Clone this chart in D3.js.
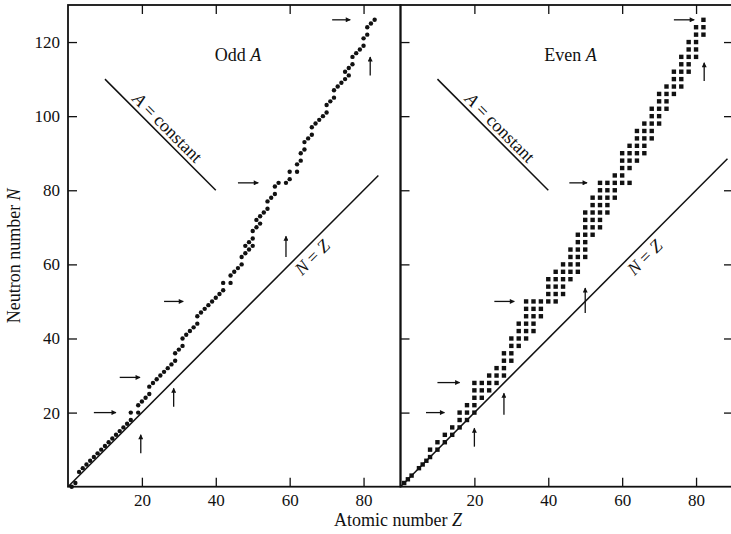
<!DOCTYPE html>
<html>
<head>
<meta charset="utf-8">
<script src="https://cdn.jsdelivr.net/npm/d3@7/dist/d3.min.js"></script>
<style>
  body { margin: 0; background: #fff; }
  text { font-family: "Liberation Serif", "Times New Roman", serif; fill: #111; }
</style>
</head>
<body>
<svg id="chart" width="731" height="534"></svg>
<script>
// Stable odd-A nuclides, [Z, N]
const oddA = [
  [1,0],[2,1],[3,4],[4,5],[5,6],[6,7],[7,8],[8,9],[9,10],[10,11],[11,12],[12,13],[13,14],
  [14,15],[15,16],[16,17],[17,18],[17,20],[19,20],[19,22],[20,23],[21,24],[22,25],[22,27],
  [23,28],[24,29],[25,30],[26,31],[27,32],[28,33],[29,34],[29,36],[30,37],[31,38],[31,40],
  [32,41],[33,42],[34,43],[35,44],[35,46],[36,47],[37,48],[38,49],[39,50],[40,51],[41,52],
  [42,53],[42,55],[44,55],[44,57],[45,58],[46,59],[47,60],[47,62],[48,63],[48,65],[49,64],
  [50,65],[49,66],[50,67],[50,69],[51,70],[51,72],[52,71],[52,73],[53,74],[54,75],[54,77],
  [55,78],[56,79],[56,81],[57,82],[59,82],[60,83],[60,85],[62,85],[62,87],[63,88],[63,90],
  [64,91],[64,93],[65,94],[66,95],[66,97],[67,98],[68,99],[69,100],[70,101],[70,103],
  [71,104],[72,105],[72,107],[73,108],[74,109],[75,110],[76,111],[75,112],[76,113],[77,114],
  [77,116],[78,117],[79,118],[80,119],[80,121],[81,122],[81,124],[82,125],[83,126]
];

// Stable even-A nuclides, [Z, N]
const evenA = [
  [1,1],[2,2],[3,3],[5,5],[6,6],[7,7],[8,8],[8,10],[10,10],[10,12],[12,12],[12,14],
  [14,14],[14,16],[16,16],[16,18],[16,20],[18,18],[18,20],[18,22],
  [20,20],[20,22],[20,24],[20,26],[20,28],[22,24],[22,26],[22,28],[24,26],[24,28],[24,30],
  [26,28],[26,30],[26,32],[28,30],[28,32],[28,34],[28,36],[30,34],[30,36],[30,38],[30,40],
  [32,38],[32,40],[32,42],[32,44],[34,40],[34,42],[34,44],[34,46],[34,48],[34,50],
  [36,42],[36,44],[36,46],[36,48],[36,50],[38,46],[38,48],[38,50],
  [40,50],[40,52],[40,54],[40,56],[42,50],[42,52],[42,54],[42,56],[42,58],
  [44,52],[44,54],[44,56],[44,58],[44,60],[46,56],[46,58],[46,60],[46,62],[46,64],
  [48,58],[48,60],[48,62],[48,64],[48,66],[48,68],
  [50,62],[50,64],[50,66],[50,68],[50,70],[50,72],[50,74],
  [52,68],[52,70],[52,72],[52,74],[52,76],[52,78],
  [54,70],[54,72],[54,74],[54,76],[54,78],[54,80],[54,82],
  [56,74],[56,76],[56,78],[56,80],[56,82],[58,78],[58,80],[58,82],[58,84],
  [60,82],[60,84],[60,86],[60,88],[60,90],[62,82],[62,86],[62,88],[62,90],[62,92],
  [64,88],[64,90],[64,92],[64,94],[64,96],[66,90],[66,92],[66,94],[66,96],[66,98],
  [68,94],[68,96],[68,98],[68,100],[68,102],[70,98],[70,100],[70,102],[70,104],[70,106],
  [72,102],[72,104],[72,106],[72,108],[74,106],[74,108],[74,110],[74,112],
  [76,108],[76,110],[76,112],[76,114],[76,116],[78,112],[78,114],[78,116],[78,118],[78,120],
  [80,116],[80,118],[80,120],[80,122],[80,124],[82,122],[82,124],[82,126]
];

// Magic-number arrows: horizontal [N, Zfrom, Zto], vertical [Z, Nfrom, Nto]
const oddHArrows = [[20,7,13],[29.5,14,19.5],[50,26,31.2],[82,46,51.5],[126,71.5,76.4]];
const oddVArrows = [[19.7,9,14],[28.6,21.6,26.6],[59,62,67.6],[81.8,111,116]];
const evenHArrows = [[20,6.9,11.9],[28.1,10,16],[50,25.4,30.8],[82,45.7,50.5],[126,74,79.5]];
const evenVArrows = [[20,10.8,15.8],[28,19.4,25.2],[50,46.9,53.6],[82.2,109.5,114.4]];

const xTicks = [20, 40, 60, 80];
const yTicks = [20, 40, 60, 80, 100, 120];

const svg = d3.select("#chart");
const yTop = 5, yBottom = 486.7;
const y = d3.scaleLinear().domain([0, 130]).range([yBottom, yTop]);
const xL = d3.scaleLinear().domain([0, 90]).range([68, 400.5]);
const xR = d3.scaleLinear().domain([0, 90]).range([400.5, 733]);

// arrow head
svg.append("defs").append("marker")
  .attr("id", "head")
  .attr("viewBox", "0 0 10 10")
  .attr("refX", 9).attr("refY", 5)
  .attr("markerWidth", 7).attr("markerHeight", 5)
  .attr("markerUnits", "userSpaceOnUse")
  .attr("orient", "auto")
  .append("path").attr("d", "M0 0 L10 5 L0 10 Z").attr("fill", "#111");

function styleAxis(g) {
  g.select(".domain").remove();
  g.selectAll(".tick line").attr("stroke", "#111").attr("stroke-width", 1.3);
  g.selectAll(".tick text").style("font-size", "17px").attr("fill", "#111");
}

function panel(x, data, square, hArrows, vArrows, title, nzEnd, firstPanel) {
  const g = svg.append("g");

  // axes with inward ticks
  g.append("g").attr("transform", `translate(0,${yBottom})`)
    .call(d3.axisBottom(x).tickValues(xTicks).tickSize(-9).tickPadding(7))
    .call(styleAxis);
  g.append("g").attr("transform", `translate(0,${yTop})`)
    .call(d3.axisTop(x).tickValues(xTicks).tickSize(-9).tickFormat(""))
    .call(styleAxis);
  if (firstPanel) {
    g.append("g").attr("transform", `translate(${x(0)},0)`)
      .call(d3.axisLeft(y).tickValues(yTicks).tickSize(-9).tickPadding(8))
      .call(styleAxis);
  } else {
    g.append("g").attr("transform", `translate(${x(0)},0)`)
      .call(d3.axisRight(y).tickValues(yTicks).tickSize(9).tickFormat(""))
      .call(styleAxis);
    g.append("g").attr("transform", `translate(${x(90)},0)`)
      .call(d3.axisLeft(y).tickValues(yTicks).tickSize(9).tickFormat(""))
      .call(styleAxis);
  }

  // frame
  g.append("rect")
    .attr("x", x(0)).attr("y", yTop)
    .attr("width", x(90) - x(0)).attr("height", yBottom - yTop)
    .attr("fill", "none").attr("stroke", "#111").attr("stroke-width", 1.8);

  // N = Z line
  g.append("line")
    .attr("x1", x(0)).attr("y1", y(0)).attr("x2", x(nzEnd)).attr("y2", y(nzEnd))
    .attr("stroke", "#111").attr("stroke-width", 1.5);
  const nzAngle = Math.atan2(y(nzEnd) - y(0), x(nzEnd) - x(0)) * 180 / Math.PI;
  const nz = g.append("text")
    .attr("transform", `translate(${x(64)},${y(64)}) rotate(${nzAngle})`)
    .attr("text-anchor", "middle").attr("dy", 17)
    .style("font-size", "18px");
  nz.append("tspan").style("font-style", "italic").text("N");
  nz.append("tspan").text(" = ");
  nz.append("tspan").style("font-style", "italic").text("Z");

  // A = constant line
  g.append("line")
    .attr("x1", x(10)).attr("y1", y(110)).attr("x2", x(40)).attr("y2", y(80))
    .attr("stroke", "#111").attr("stroke-width", 1.5);
  const acAngle = Math.atan2(y(80) - y(110), x(40) - x(10)) * 180 / Math.PI;
  const ac = g.append("text")
    .attr("transform", `translate(${x(25)},${y(95)}) rotate(${acAngle})`)
    .attr("text-anchor", "middle").attr("dy", -4)
    .style("font-size", "18px");
  ac.append("tspan").style("font-style", "italic").text("A");
  ac.append("tspan").text(" = constant");

  // title
  const t = g.append("text")
    .attr("x", x(46)).attr("y", y(115))
    .attr("text-anchor", "middle").style("font-size", "18px");
  t.append("tspan").text(title + " ");
  t.append("tspan").style("font-style", "italic").text("A");

  // nuclides
  if (square) {
    g.selectAll("rect.nuc").data(data).join("rect").attr("class", "nuc")
      .attr("x", d => x(d[0]) - 2.2).attr("y", d => y(d[1]) - 2.2)
      .attr("width", 4.4).attr("height", 4.4).attr("fill", "#111");
  } else {
    g.selectAll("circle.nuc").data(data).join("circle").attr("class", "nuc")
      .attr("cx", d => x(d[0])).attr("cy", d => y(d[1]))
      .attr("r", 2.2).attr("fill", "#111");
  }

  // arrows
  g.selectAll("line.h").data(hArrows).join("line").attr("class", "h")
    .attr("x1", d => x(d[1])).attr("x2", d => x(d[2]))
    .attr("y1", d => y(d[0])).attr("y2", d => y(d[0]))
    .attr("stroke", "#111").attr("stroke-width", 1.3).attr("marker-end", "url(#head)");
  g.selectAll("line.v").data(vArrows).join("line").attr("class", "v")
    .attr("x1", d => x(d[0])).attr("x2", d => x(d[0]))
    .attr("y1", d => y(d[1])).attr("y2", d => y(d[2]))
    .attr("stroke", "#111").attr("stroke-width", 1.3).attr("marker-end", "url(#head)");
}

panel(xL, oddA, false, oddHArrows, oddVArrows, "Odd", 84, true);
panel(xR, evenA, true, evenHArrows, evenVArrows, "Even", 88.5, false);

// axis titles
const yt = svg.append("text")
  .attr("transform", `translate(20,${(yTop + yBottom) / 2 + 10}) rotate(-90)`)
  .attr("text-anchor", "middle").style("font-size", "18px");
yt.append("tspan").text("Neutron number ");
yt.append("tspan").style("font-style", "italic").text("N");

const xt = svg.append("text")
  .attr("x", 398).attr("y", 526)
  .attr("text-anchor", "middle").style("font-size", "18px");
xt.append("tspan").text("Atomic number ");
xt.append("tspan").style("font-style", "italic").text("Z");
</script>
</body>
</html>
